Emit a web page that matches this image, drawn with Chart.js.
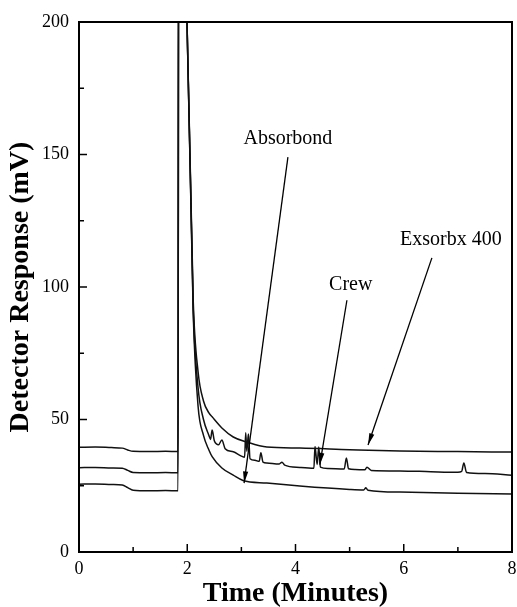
<!DOCTYPE html>
<html>
<head>
<meta charset="utf-8">
<title>Chromatogram</title>
<script src="https://cdn.jsdelivr.net/npm/chart.js@4.4.1/dist/chart.umd.min.js"></script>
<style>
  body { margin: 0; background: #fff; }
  #wrap { width: 517px; height: 607px; }
</style>
</head>
<body>
<div id="wrap"><canvas id="js--chromChart" width="517" height="607"></canvas></div>
<script>
// data

// Exsorbx 400 - top trace
const tijdExsorbx = [0, 0.3, 0.6, 0.8, 0.9, 1.0, 1.3, 1.6, 1.83, 1.84, 1.99, 2.11, 2.2, 2.3, 2.4, 2.46, 2.64, 2.85, 3.1, 3.47, 4.08, 5.0, 5.93, 7.0, 8.0];
const exsorbx = [39.5, 39.6, 39.4, 39.2, 38.5, 38.0, 37.9, 38.0, 37.9, 240, 205, 95, 68, 57, 52.5, 51, 46.8, 43.4, 41.5, 39.6, 39.2, 38.6, 38.1, 37.9, 37.7];

// Crew - middle trace
const tijdCrew = [0, 0.3, 0.6, 0.8, 0.9, 1.0, 1.3, 1.6, 1.83, 1.84, 1.99, 2.11, 2.2, 2.3, 2.4, 2.43, 2.46, 2.5, 2.58, 2.64, 2.7, 2.85, 3.0, 3.06, 3.08, 3.1, 3.13, 3.16, 3.25, 3.33, 3.36, 3.4, 3.47, 3.7, 3.75, 3.8, 4.08, 4.34, 4.36, 4.4, 4.43, 4.46, 4.6, 4.9, 4.94, 4.98, 5.1, 5.28, 5.32, 5.4, 5.93, 6.5, 7.0, 7.07, 7.11, 7.16, 7.5, 8.0];
const crew = [31.8, 31.9, 31.7, 31.6, 30.8, 30.0, 29.9, 30.0, 29.9, 240, 205, 92, 62, 50, 44, 42.5, 46, 42, 40.5, 42.3, 39, 37.8, 36.2, 35.8, 45, 38, 44.5, 35.2, 34.6, 34.2, 37.5, 33.9, 33.6, 33.2, 33.9, 32.8, 31.9, 31.6, 39.8, 33, 39.6, 32, 31.5, 31.3, 35.5, 31.4, 31.1, 31.0, 32, 30.8, 30.6, 30.3, 30.1, 30.4, 33.6, 30.0, 29.6, 29.0];

// Absorbond - bottom trace
const tijdAbsorbond = [0, 0.3, 0.6, 0.8, 0.9, 1.0, 1.3, 1.6, 1.83, 1.84, 1.99, 2.11, 2.2, 2.3, 2.4, 2.46, 2.64, 2.85, 3.03, 3.47, 4.08, 5.0, 5.26, 5.3, 5.34, 5.93, 7.0, 8.0];
const absorbond = [25.6, 25.7, 25.5, 25.3, 24.3, 23.3, 23.1, 23.2, 23.1, 240, 205, 90, 55, 44, 38.5, 36, 31.7, 29, 27, 26, 24.9, 23.6, 23.4, 24.2, 23.3, 22.6, 22.2, 21.9];

// labels with arrows: text spot and arrow tip, in minutes / mV
const labelTekst = ["Absorbond", "Crew", "Exsorbx 400"];
const labelX = [3.86, 5.02, 6.87];
const labelY = [156, 101, 118];
const pijlStartX = [3.86, 4.95, 6.52];
const pijlStartY = [149, 95, 111];
const pijlEindX = [3.05, 4.45, 5.34];
const pijlEindY = [26, 33, 40.4];


function punten(tijd, waarden) {
    return tijd.map((t, i) => ({ x: t, y: waarden[i] }));
}

const serif = '"Liberation Serif", "Times New Roman", serif';

// frame, inward ticks and the arrows
const extraTekenen = {
    id: "extraTekenen",
    afterDraw(chart) {
        const ctx = chart.ctx;
        const a = chart.chartArea;
        const x = chart.scales.x;
        const y = chart.scales.y;

        ctx.save();
        ctx.strokeStyle = "#000";
        ctx.lineWidth = 2;
        ctx.strokeRect(a.left, a.top, a.right - a.left, a.bottom - a.top);

        ctx.lineWidth = 1.5;
        for (let t = 0; t <= 8; t++) {
            const px = x.getPixelForValue(t);
            const len = t % 2 === 0 ? 8 : 5;
            ctx.beginPath();
            ctx.moveTo(px, a.bottom);
            ctx.lineTo(px, a.bottom - len);
            ctx.stroke();
        }
        for (let v = 0; v <= 200; v += 25) {
            const py = y.getPixelForValue(v);
            const len = v % 50 === 0 ? 8 : 5;
            ctx.beginPath();
            ctx.moveTo(a.left, py);
            ctx.lineTo(a.left + len, py);
            ctx.stroke();
        }

        ctx.fillStyle = "#000";
        ctx.font = "20px " + serif;
        ctx.textAlign = "center";
        ctx.textBaseline = "middle";
        for (let i = 0; i < labelTekst.length; i++) {
            ctx.fillText(labelTekst[i], x.getPixelForValue(labelX[i]), y.getPixelForValue(labelY[i]));

            const x1 = x.getPixelForValue(pijlStartX[i]);
            const y1 = y.getPixelForValue(pijlStartY[i]);
            const x2 = x.getPixelForValue(pijlEindX[i]);
            const y2 = y.getPixelForValue(pijlEindY[i]);
            const hoek = Math.atan2(y2 - y1, x2 - x1);

            ctx.lineWidth = 1.3;
            ctx.beginPath();
            ctx.moveTo(x1, y1);
            ctx.lineTo(x2, y2);
            ctx.stroke();

            // arrow head
            ctx.beginPath();
            ctx.moveTo(x2, y2);
            ctx.lineTo(x2 - 12 * Math.cos(hoek - 0.22), y2 - 12 * Math.sin(hoek - 0.22));
            ctx.lineTo(x2 - 12 * Math.cos(hoek + 0.22), y2 - 12 * Math.sin(hoek + 0.22));
            ctx.closePath();
            ctx.fill();
        }
        ctx.restore();
    }
};

const lijn = {
    borderColor: "#111",
    borderWidth: 1.5,
    pointRadius: 0,
    fill: false,
    cubicInterpolationMode: "monotone"
};

const chromChart = document.getElementById("js--chromChart");

const config = {
    type: "line",
    data: {
        datasets: [
            Object.assign({ label: "Exsorbx 400", data: punten(tijdExsorbx, exsorbx) }, lijn),
            Object.assign({ label: "Crew", data: punten(tijdCrew, crew) }, lijn),
            Object.assign({ label: "Absorbond", data: punten(tijdAbsorbond, absorbond) }, lijn)
        ]
    },
    options: {
        responsive: false,
        animation: false,
        devicePixelRatio: 1,
        layout: { padding: { top: 22, right: 5, left: 0, bottom: 0 } },
        plugins: {
            legend: { display: false },
            tooltip: { enabled: false }
        },
        scales: {
            x: {
                type: "linear",
                min: 0,
                max: 8,
                grid: { drawOnChartArea: false, drawTicks: false },
                border: { display: false },
                ticks: {
                    stepSize: 1,
                    autoSkip: false,
                    maxRotation: 0,
                    padding: 6,
                    color: "#000",
                    font: { family: serif, size: 18 },
                    callback: (v) => (v % 2 === 0 ? v : "")
                },
                title: {
                    display: true,
                    text: "Time (Minutes)",
                    color: "#000",
                    font: { family: serif, size: 28, weight: "bold" },
                    padding: { top: 0, bottom: -4 }
                },
                afterFit: (scale) => {
                    scale.height = 55;
                    scale.paddingLeft = 0;
                    scale.paddingRight = 0;
                }
            },
            y: {
                min: 0,
                max: 200,
                grid: { drawOnChartArea: false, drawTicks: false },
                border: { display: false },
                ticks: {
                    stepSize: 25,
                    autoSkip: false,
                    padding: 10,
                    color: "#000",
                    font: { family: serif, size: 18 },
                    callback: (v) => (v % 50 === 0 ? v : "")
                },
                title: {
                    display: true,
                    text: "Detector Response (mV)",
                    color: "#000",
                    font: { family: serif, size: 28, weight: "bold" },
                    padding: { top: 4, bottom: 0 }
                },
                afterFit: (scale) => { scale.width = 79; }
            }
        }
    },
    plugins: [extraTekenen]
};

myChart = new Chart(chromChart, config);
</script>
</body>
</html>
